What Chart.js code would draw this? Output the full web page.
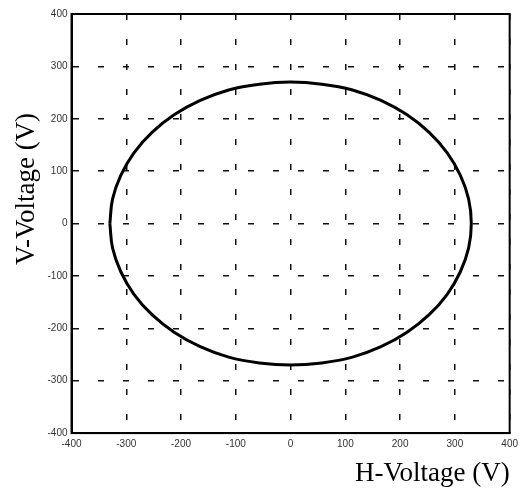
<!DOCTYPE html>
<html>
<head>
<meta charset="utf-8">
<script src="https://cdn.jsdelivr.net/npm/chart.js@4.4.1/dist/chart.umd.min.js"></script>
<style>
  html, body { margin: 0; padding: 0; background: #fff; }
  #wrap { width: 523px; height: 490px; }
</style>
</head>
<body>
<div id="wrap"><canvas id="lissajous"></canvas></div>
<script>
// values (V), going round the trace
const hVoltage = [-330, -325, -310, -286, -253, -212, -165, -113, -57, 0, 57, 113, 165, 212, 253, 286, 310, 325, 330,
  325, 310, 286, 253, 212, 165, 113, 57, 0, -57, -113, -165, -212, -253, -286, -310, -325, -330];
const vVoltage = [0, 47, 92, 135, 174, 208, 235, 255, 266, 270, 266, 255, 235, 208, 174, 135, 92, 47, 0,
  -47, -92, -135, -174, -208, -235, -255, -266, -270, -266, -255, -235, -208, -174, -135, -92, -47, 0];
const xTicks = [-400, -300, -200, -100, 0, 100, 200, 300, 400];
const yTicks = [-400, -300, -200, -100, 0, 100, 200, 300, 400];

const points = hVoltage.map((h, i) => ({ x: h, y: vVoltage[i] }));

const frame = {
  id: 'frame',
  afterDraw(chart) {
    const { ctx, chartArea: a } = chart;
    ctx.save();
    ctx.strokeStyle = '#000';
    ctx.lineWidth = 2;
    ctx.strokeRect(a.left, a.top, a.right - a.left, a.bottom - a.top);
    // y axis title
    ctx.translate(27, 189);
    ctx.rotate(-Math.PI / 2);
    ctx.fillStyle = '#000';
    ctx.font = '27px "Liberation Serif", "Times New Roman", serif';
    ctx.textAlign = 'center';
    ctx.textBaseline = 'middle';
    ctx.fillText('V-Voltage (V)', 0, 0);
    ctx.restore();
  }
};

const gridStyle = { color: '#111', lineWidth: 1.5, drawTicks: false };

new Chart(document.getElementById('lissajous').getContext('2d'), {
  type: 'scatter',
  data: {
    datasets: [{
      data: points,
      showLine: true,
      borderColor: '#000',
      borderWidth: 3,
      pointRadius: 0,
      tension: 0.4,
      fill: false
    }]
  },
  options: {
    responsive: true,
    maintainAspectRatio: false,
    animation: false,
    layout: { padding: { left: 43.5, top: 14, right: 13, bottom: 0 } },
    plugins: { legend: { display: false }, tooltip: { enabled: false } },
    scales: {
      x: {
        min: -400, max: 400,
        afterBuildTicks: s => { s.ticks = xTicks.map(v => ({ value: v })); },
        grid: gridStyle,
        border: { color: '#000', width: 2, dash: [6, 19] },
        ticks: { color: '#333', padding: 5, font: { family: 'Liberation Sans', size: 10 } },
        title: {
          display: true, text: 'H-Voltage (V)', align: 'end', color: '#000',
          padding: { top: 2.5, bottom: 0 },
          font: { family: '"Liberation Serif", "Times New Roman", serif', size: 27 }
        }
      },
      y: {
        min: -400, max: 400,
        afterBuildTicks: s => { s.ticks = yTicks.map(v => ({ value: v })); },
        grid: gridStyle,
        border: { color: '#000', width: 2, dash: [6, 19] },
        ticks: { color: '#333', padding: 4, font: { family: 'Liberation Sans', size: 10 } }
      }
    }
  },
  plugins: [frame]
});
</script>
</body>
</html>
